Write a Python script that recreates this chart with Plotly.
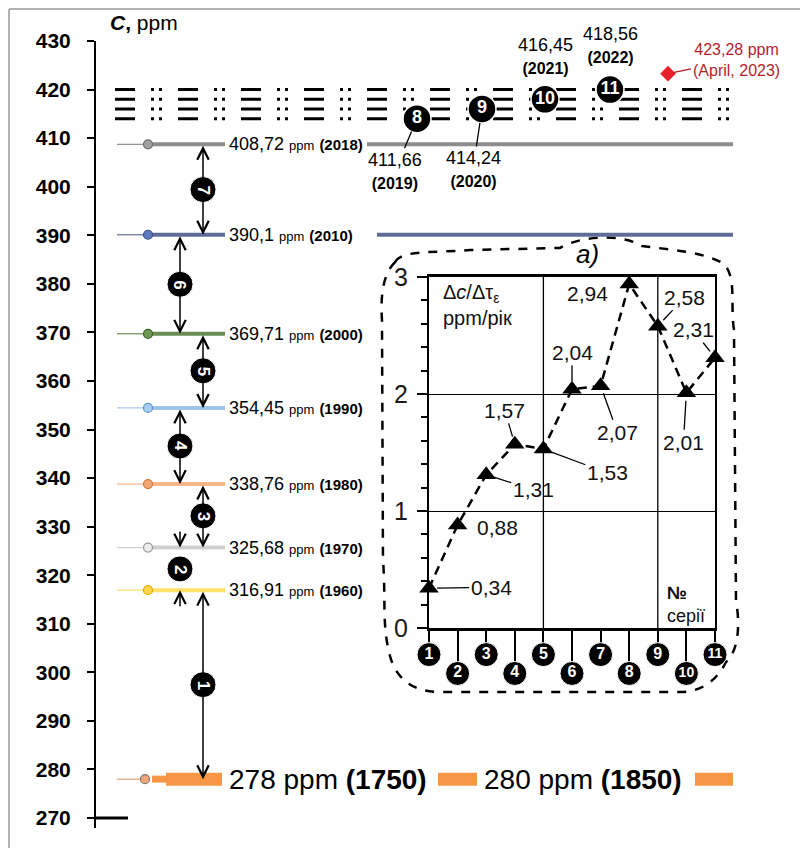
import plotly.graph_objects as go

# ---------------- data ----------------
YEARS = [1960, 1970, 1980, 1990, 2000, 2010, 2018]
LEVELS = [316.91, 325.68, 338.76, 354.45, 369.71, 390.10, 408.72]
LEVEL_LABELS = ["316,91", "325,68", "338,76", "354,45", "369,71", "390,1", "408,72"]
PRE_YEARS = [1750, 1850]
PRE_LEVELS = [278, 280]
PRE_LABELS = ["278", "280"]
RECENT_YEARS = [2019, 2020, 2021, 2022]
RECENT_LEVELS = [411.66, 414.24, 416.45, 418.56]
RECENT_LABELS = ["411,66", "414,24", "416,45", "418,56"]
RECENT_SERIES = [8, 9, 10, 11]
APRIL_2023 = 423.28
APRIL_LABEL = "423,28 ppm<br>(April, 2023)"
Y_TICKS = list(range(270, 431, 10))
PATTERN_ROWS = [414, 416, 418, 420]

SERIES = list(range(1, 12))
RATES = [0.34, 0.88, 1.31, 1.57, 1.53, 2.04, 2.07, 2.94, 2.58, 2.01, 2.31]
RATE_LABELS = ["0,34", "0,88", "1,31", "1,57", "1,53", "2,04", "2,07", "2,94", "2,58", "2,01", "2,31"]
INSET_Y_TICKS = [0, 1, 2, 3]

# ---------------- styles / layout ----------------
OFF = 8                      # page body margin
W, H = 800, 840              # figure size (fits the 808x848 window with the body margin)
SPINE = 95                   # spine position in window pixels
L_MARGIN = SPINE - OFF
Y_TOP = 430 + (41 - OFF) * 160 / 777
Y_BOT = 270 - (H + OFF - 818) * 160 / 777
SANS = "Liberation Sans, Arial, sans-serif"

LINE_COLORS = ["#ffe26a", "#cfcfcf", "#f6b48a", "#9fc5e8", "#6b8c56", "#5f6c98", "#8d8d8d"]
MARK_FILL = ["#ffd54a", "#ececec", "#f4a574", "#a9cdf0", "#6f9a55", "#5b7bbf", "#a0a0a0"]
MARK_EDGE = ["#e0b000", "#9a9a9a", "#d07a40", "#5b9bd5", "#3f6030", "#3b4f8a", "#6e6e6e"]
ORANGE = "#f79646"
EXT_START = {2010: 377, 2018: 367}
X_THIN0, X_MARK, X_THICK1, X_LABEL, X_END = 117, 148, 225, 227, 733


def pxp(px):
    return (px - OFF - L_MARGIN) / (W - L_MARGIN)


def pyp(py):
    return 1 - (py - OFF) / H


def vp(v):
    return (v - Y_BOT) / (Y_TOP - Y_BOT)


fig = go.Figure()
ann = []
shapes = []

# ---- pattern rows (dash-dot rulers) ----
for r in PATTERN_ROWS:
    fig.add_trace(go.Scatter(x=[115, X_END], y=[r, r], mode="lines",
                             line=dict(color="black", width=3, dash="20px,16px,3px,5px,3px,16px"),
                             hoverinfo="skip", showlegend=False))

# ---- level lines ----
for i, (yr, v) in enumerate(zip(YEARS, LEVELS)):
    c = LINE_COLORS[i]
    fig.add_trace(go.Scatter(x=[X_THIN0, X_MARK], y=[v, v], mode="lines",
                             line=dict(color=c, width=1.2), showlegend=False, hoverinfo="skip"))
    xs = [X_MARK, X_THICK1]
    ys = [v, v]
    if yr in EXT_START:
        xs += [None, EXT_START[yr], X_END]
        ys += [None, v, v]
    fig.add_trace(go.Scatter(x=xs, y=ys, mode="lines",
                             line=dict(color=c, width=4), showlegend=False, hoverinfo="skip"))
    fig.add_trace(go.Scatter(x=[X_MARK], y=[v], mode="markers",
                             marker=dict(size=9, color=MARK_FILL[i], line=dict(color=MARK_EDGE[i], width=1.2)),
                             showlegend=False, hoverinfo="skip"))
    ann.append(dict(x=X_LABEL, y=v, xref="x", yref="y", xanchor="left", yanchor="middle", showarrow=False,
                    text=(f"{LEVEL_LABELS[i]} <span style='font-size:13px'>ppm</span> "
                          f"<span style='font-size:15px'><b>({yr})</b></span>"),
                    font=dict(family=SANS, size=18, color="black")))

# ---- pre-industrial level ----
pv = PRE_LEVELS[0]
fig.add_trace(go.Scatter(x=[X_THIN0, 145], y=[pv, pv], mode="lines",
                         line=dict(color="#d9a070", width=1.2), showlegend=False, hoverinfo="skip"))
fig.add_trace(go.Scatter(x=[152, 166], y=[pv, pv], mode="lines",
                         line=dict(color=ORANGE, width=7), showlegend=False, hoverinfo="skip"))
fig.add_trace(go.Scatter(x=[166, 222, None, 438, 477, None, 695, X_END], y=[pv, pv, None, pv, pv, None, pv, pv],
                         mode="lines", line=dict(color=ORANGE, width=13), showlegend=False, hoverinfo="skip"))
fig.add_trace(go.Scatter(x=[145], y=[pv], mode="markers",
                         marker=dict(size=9, color="#f4a574", line=dict(color="#7a7a7a", width=1.2)),
                         showlegend=False, hoverinfo="skip"))
for lab, yr, xl in zip(PRE_LABELS, PRE_YEARS, [227, 482]):
    ann.append(dict(x=xl, y=pv, xref="x", yref="y", xanchor="left", yanchor="middle", showarrow=False,
                    text=f"{lab} ppm <b>({yr})</b>", font=dict(family=SANS, size=28, color="black")))

# ---- arrows between levels ----
ALL = [PRE_LEVELS[0]] + LEVELS
circ_x, circ_y = [], []
for k in range(1, 8):
    lo, hi = ALL[k - 1], ALL[k]
    ax_ = 203 if k % 2 == 1 else 180
    if k == 2:
        ann.append(dict(x=ax_, y=hi, ax=ax_, ay=hi + 3.6, xref="x", yref="y", axref="x", ayref="y",
                        showarrow=True, arrowhead=5, arrowsize=1.5, arrowwidth=1.5, arrowcolor="black", text=""))
        ann.append(dict(x=ax_, y=lo, ax=ax_, ay=lo - 3.6, xref="x", yref="y", axref="x", ayref="y",
                        showarrow=True, arrowhead=5, arrowsize=1.5, arrowwidth=1.5, arrowcolor="black", text=""))
    else:
        ann.append(dict(x=ax_, y=lo, ax=ax_, ay=hi, xref="x", yref="y", axref="x", ayref="y",
                        showarrow=True, arrowhead=5, arrowsize=1.5, arrowwidth=1.5, arrowcolor="black",
                        arrowside="end+start", text=""))
    mid = (lo + hi) / 2
    circ_x.append(ax_)
    circ_y.append(mid)
    ann.append(dict(x=ax_, y=mid, xref="x", yref="y", showarrow=False, text=f"<b>{k}</b>", textangle=90,
                    font=dict(family=SANS, size=17, color="white")))
fig.add_trace(go.Scatter(x=circ_x, y=circ_y, mode="markers",
                         marker=dict(size=26, color="black", line=dict(color="white", width=1)),
                         showlegend=False, hoverinfo="skip"))

# ---- recent years circles 8..11 ----
RX = [417, 482, 545, 610]
fig.add_trace(go.Scatter(x=RX, y=PATTERN_ROWS, mode="markers+text",
                         marker=dict(size=28, color="black", line=dict(color="white", width=1.5)),
                         text=[f"<b>{s}</b>" for s in RECENT_SERIES], textposition="middle center",
                         textfont=dict(family=SANS, size=18, color="white"),
                         showlegend=False, hoverinfo="skip", cliponaxis=False))
for i, (lab, yr) in enumerate(zip(RECENT_LABELS, RECENT_YEARS)):
    txt = f"{lab}<br><span style='font-size:16px'><b>({yr})</b></span>"
    if i < 2:
        offs = [(-22, 52), (-9, 60)][i]
        ann.append(dict(x=RX[i], y=PATTERN_ROWS[i], xref="x", yref="y", ax=offs[0], ay=offs[1],
                        showarrow=True, arrowhead=0, arrowwidth=1.3, arrowcolor="black", standoff=14,
                        text=txt, font=dict(family=SANS, size=18, color="black")))
    else:
        ypix = [56, 45][i - 2]
        ann.append(dict(x=RX[i], y=pyp(ypix), xref="x", yref="paper", yanchor="middle", showarrow=False,
                        text=txt, font=dict(family=SANS, size=18, color="black")))

fig.add_trace(go.Scatter(x=[668], y=[APRIL_2023], mode="markers",
                         marker=dict(size=12, symbol="diamond", color="#e8202a"),
                         showlegend=False, hoverinfo="skip"))
ann.append(dict(x=668, y=APRIL_2023, xref="x", yref="y", ax=68, ay=-14, showarrow=True, arrowhead=0,
                arrowwidth=1.3, arrowcolor="#b01c28", standoff=5, text=APRIL_LABEL,
                font=dict(family=SANS, size=16, color="#b51d2b")))

# ---- inset chart ----
fig.add_trace(go.Scatter(x=[5, 5, None, 9, 9], y=[0, 3, None, 0, 3], mode="lines",
                         line=dict(color="black", width=1.3), xaxis="x2", yaxis="y2",
                         showlegend=False, hoverinfo="skip"))
fig.add_trace(go.Scatter(x=SERIES, y=RATES, mode="lines+markers", xaxis="x2", yaxis="y2",
                         line=dict(color="black", width=2.5, dash="9px,6px"),
                         marker=dict(symbol="triangle-up", size=17, color="black"),
                         cliponaxis=False, showlegend=False, hoverinfo="skip"))
# series-number badges under the inset x axis (own strip subplot)
fig.add_trace(go.Scatter(x=SERIES, y=[0.6 if s % 2 else 0.28 for s in SERIES], mode="markers+text",
                         xaxis="x4", yaxis="y4",
                         marker=dict(size=24, color="black", line=dict(color="white", width=1)),
                         text=[f"<b>{s}</b>" for s in SERIES], textposition="middle center",
                         textfont=dict(family=SANS, size=[16 if s < 10 else 14 for s in SERIES], color="white"),
                         cliponaxis=False, showlegend=False, hoverinfo="skip"))

LABEL_OFFS = [(62, -1, True), (40, 2, False), (47, 15, True), (-10, -34, True), (64, 24, True),
              (0, -37, True), (17, 47, True), (-42, 9, False), (27, -29, True), (-3, 50, True),
              (-22, -28, True)]
for s, r, lab, (ox, oy, lead) in zip(SERIES, RATES, RATE_LABELS, LABEL_OFFS):
    if lead:
        ann.append(dict(x=s, y=r, xref="x2", yref="y2", ax=ox, ay=oy, showarrow=True, arrowhead=0,
                        arrowwidth=1.3, arrowcolor="black", standoff=8, text=lab,
                        font=dict(family=SANS, size=21, color="#111")))
    else:
        ann.append(dict(x=s, y=r, xref="x2", yref="y2", xshift=ox, yshift=-oy, showarrow=False, text=lab,
                        font=dict(family=SANS, size=21, color="#111")))

ann.append(dict(x=pxp(441), y=pyp(305), xref="paper", yref="paper", xanchor="left", yanchor="middle",
                showarrow=False, align="left",
                text="Δ<i>c</i>/Δτ<sub>ε</sub><br>ppm/рік", font=dict(family=SANS, size=20, color="#111")))
ann.append(dict(x=pxp(665), y=pyp(604), xref="paper", yref="paper", xanchor="left", yanchor="middle",
                showarrow=False, align="left",
                text="<b>№</b><br>серії", font=dict(family=SANS, size=18, color="#111")))
ann.append(dict(x=pxp(601), y=pyp(254), xref="paper", yref="paper", yanchor="middle", showarrow=False,
                text="<i>a)</i>", font=dict(family=SANS, size=26, color="black")))

# ---- axis title ----
ann.append(dict(x=pxp(108), y=pyp(22), xref="paper", yref="paper", xanchor="left", yanchor="middle",
                showarrow=False, text="<b><i>C</i>,</b> ppm", font=dict(family=SANS, size=21, color="black")))

# ---- decorative shapes ----
shapes.append(dict(type="line", xref="paper", yref="paper", x0=0, x1=0, y0=vp(267.94), y1=vp(430),
                   line=dict(color="black", width=2)))
shapes.append(dict(type="line", xref="paper", yref="paper", x0=0, x1=pxp(128), y0=vp(270), y1=vp(270),
                   line=dict(color="black", width=3)))
shapes.append(dict(type="line", xref="paper", yref="paper", x0=pxp(9), x1=1, y0=pyp(9), y1=pyp(9),
                   line=dict(color="#9a9a9a", width=1.5)))
shapes.append(dict(type="line", xref="paper", yref="paper", x0=pxp(9), x1=pxp(9), y0=pyp(9), y1=0,
                   line=dict(color="#9a9a9a", width=1.5)))

CLOUD = [("M", [(395, 262)]),
         ("C", [(402, 250), (430, 253), (470, 250)]),
         ("L", [(560, 248)]),
         ("C", [(580, 236), (620, 233), (642, 246)]),
         ("C", [(672, 250), (705, 252), (724, 264)]),
         ("C", [(737, 278), (730, 305), (734, 330)]),
         ("L", [(736, 600)]),
         ("C", [(741, 630), (737, 652), (726, 662)]),
         ("C", [(716, 682), (700, 692), (680, 692)]),
         ("L", [(440, 692)]),
         ("C", [(410, 692), (394, 676), (389, 652)]),
         ("C", [(382, 622), (386, 600), (383, 560)]),
         ("L", [(382, 320)]),
         ("C", [(380, 290), (385, 272), (395, 262)])]
path = ""
for cmd, pts in CLOUD:
    path += cmd + " ".join(f"{pxp(x):.4f},{pyp(y):.4f}" for x, y in pts) + " "
path += "Z"
shapes.append(dict(type="path", xref="paper", yref="paper", path=path,
                   line=dict(color="black", width=2.5, dash="dash"), layer="below"))

# ---------------- layout ----------------
INSET_XD = [pxp(429), pxp(715)]
fig.update_layout(
    width=W, height=H, margin=dict(l=L_MARGIN, r=0, t=0, b=0, autoexpand=False),
    paper_bgcolor="white", plot_bgcolor="rgba(0,0,0,0)", showlegend=False,
    xaxis=dict(range=[SPINE, W + OFF], visible=False, domain=[0, 1]),
    yaxis=dict(range=[Y_BOT, Y_TOP], tickvals=Y_TICKS, ticks="outside", ticklen=7, tickwidth=2,
               tickcolor="black", showgrid=False, zeroline=False, showline=False, automargin=False,
               tickfont=dict(family=SANS, size=21, color="black", weight="bold"),
               ticklabelstandoff=12),
    yaxis3=dict(range=[Y_BOT, Y_TOP], overlaying="y", anchor="x", side="left", automargin=False,
                tickvals=list(range(270, 431, 2)), ticks="inside", ticklen=8, tickwidth=1.5,
                tickcolor="black", showticklabels=False, showgrid=False, zeroline=False, showline=False),
    xaxis2=dict(domain=INSET_XD, range=[1, 11], anchor="y2", showline=True, linewidth=3,
                linecolor="black", mirror=True, ticks="outside", tickvals=SERIES, ticklen=33, tickwidth=1.5,
                tickcolor="black", showticklabels=False, showgrid=False, zeroline=False, automargin=False),
    xaxis3=dict(domain=INSET_XD, range=[1, 11], anchor="y2", overlaying="x2", side="top",
                ticks="outside", tickvals=SERIES, ticklen=8, tickwidth=1.5, tickcolor="black",
                showticklabels=False, showgrid=False, zeroline=False, showline=False, automargin=False),
    yaxis2=dict(domain=[pyp(628), pyp(277)], range=[0, 3], anchor="x2", showline=True, linewidth=2,
                linecolor="black", mirror=True, ticks="outside", tickvals=INSET_Y_TICKS, ticklen=10,
                tickwidth=2, tickcolor="black", showgrid=True, gridcolor="black", gridwidth=1.3,
                zeroline=False, automargin=False,
                minor=dict(dtick=0.2, ticks="outside", ticklen=6, tickwidth=1.5,
                           tickcolor="black", showgrid=False),
                tickfont=dict(family=SANS, size=25, color="#1a1a1a"), ticklabelstandoff=4),
    xaxis4=dict(domain=INSET_XD, range=[1, 11], anchor="y4", visible=False),
    yaxis4=dict(domain=[pyp(690), pyp(631)], range=[0, 1], anchor="x4", visible=False),
    annotations=ann, shapes=shapes,
)

fig.write_html("out.html")
